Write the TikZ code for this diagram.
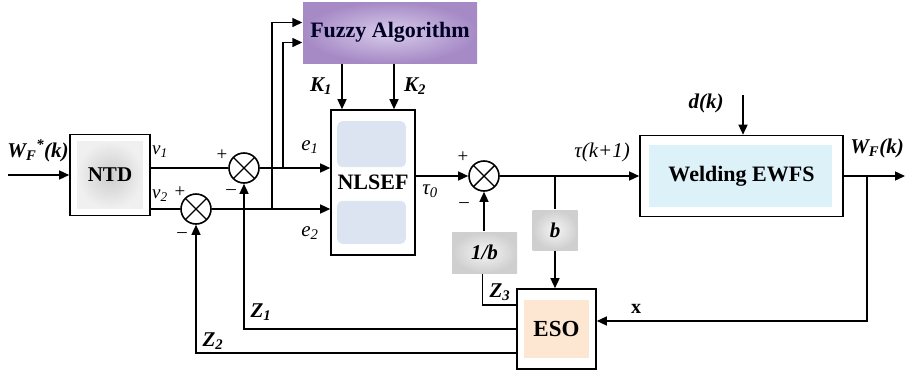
\documentclass[tikz,border=0pt]{standalone}
\usepackage{fontspec}
\setmainfont{Liberation Serif}
\usetikzlibrary{arrows.meta,backgrounds}
\definecolor{fuzin}{HTML}{D8CCEA}
\definecolor{fuzout}{HTML}{A68AC6}
\definecolor{nlpatch}{HTML}{DCE4F2}
\definecolor{wdpatch}{HTML}{DDF1F9}
\definecolor{esopatch}{HTML}{FDE6D2}
\begin{document}
\begin{tikzpicture}[x=1pt,y=-1pt, line width=1.4pt,
  >={Triangle[length=10pt,width=9pt]},
  blk/.style={draw, line width=1.6pt, inner sep=0pt, font=\fontsize{22}{24}\selectfont\bfseries},
  gblk/.style={inner sep=0pt, font=\fontsize{21}{23}\selectfont\bfseries\itshape},
  sumj/.style={circle, draw, line width=1.6pt, minimum size=30pt, inner sep=0pt, fill=white,
    path picture={\draw[line width=1.4pt] (path picture bounding box.north west) -- (path picture bounding box.south east)
      (path picture bounding box.south west) -- (path picture bounding box.north east);}},
  lab/.style={inner sep=0pt, font=\fontsize{21}{23}\selectfont\bfseries\itshape},
  rlab/.style={inner sep=0pt, font=\fontsize{21}{23}\selectfont\itshape},
  sgn/.style={inner sep=0pt, font=\fontsize{19}{21}\selectfont}]
\useasboundingbox (0,0) rectangle (912,375);

% blocks
\node[blk, minimum width=80pt, minimum height=81pt, font=\fontsize{21}{23}\selectfont\bfseries] (ntd) at (110,175) {NTD};
\node[blk, minimum width=84pt, minimum height=145pt] (nlsef) at (373,182.5) {NLSEF};
\node[inner sep=0pt, minimum width=174pt, minimum height=61pt, font=\fontsize{22}{24}\selectfont\bfseries,
      text=black!85!blue, shading=radial, inner color=fuzin, outer color=fuzout] (fuzzy) at (390,32.5) {Fuzzy Algorithm};
\node[blk, minimum width=203pt, minimum height=81pt] (weld) at (741.5,176) {Welding EWFS};
\node[blk, minimum width=79pt, minimum height=80pt, font=\fontsize{23}{25}\selectfont\bfseries] (eso) at (556.5,329) {ESO};
\node[gblk, minimum width=45pt, minimum height=40pt, shading=radial, inner color=gray!8, outer color=gray!38] (bb) at (555,230) {b};
\node[gblk, minimum width=65pt, minimum height=41pt, shading=radial, inner color=gray!8, outer color=gray!38] (ib) at (484.5,252.5) {1/b};

\begin{scope}[on background layer]
  \shade[inner color=gray!40, outer color=gray!12] ([xshift=8pt,yshift=-8pt]ntd.north west) rectangle ([xshift=-8pt,yshift=8pt]ntd.south east);
  \fill[nlpatch, rounded corners=5pt] ([xshift=7pt,yshift=-12pt]nlsef.north west) rectangle ([xshift=-10pt,yshift=-58pt]nlsef.north east);
  \fill[nlpatch, rounded corners=5pt] ([xshift=7pt,yshift=12pt]nlsef.south west) rectangle ([xshift=-10pt,yshift=55pt]nlsef.south east);
  \fill[wdpatch] ([xshift=10pt,yshift=-10pt]weld.north west) rectangle ([xshift=-12pt,yshift=10pt]weld.south east);
  \fill[esopatch] ([xshift=8pt,yshift=-12pt]eso.north west) rectangle ([xshift=-8pt,yshift=12pt]eso.south east);
\end{scope}

% summing junctions
\node[sumj] (s1) at (244,168) {};
\node[sumj] (s2) at (196,209) {};
\node[sumj] (s3) at (484,176) {};

% coordinates
\coordinate (in) at (8,175);
\coordinate (br1) at (283,168);
\coordinate (br2) at (272,209);
\coordinate (k1) at (342,0);
\coordinate (k2) at (394,0);
\coordinate (bt) at (555,176);
\coordinate (dk) at (743,95);
\coordinate (out) at (905,176);
\coordinate (fb) at (867,176);

% connectors
\draw[->] (in) -- (ntd.west);
\draw (ntd.east |- s1) -- (s1.west);
\draw (ntd.east |- s2) -- (s2.west);
\draw[->] (s1.east) -- (nlsef.west |- s1);
\draw[->] (s2.east) -- (nlsef.west |- s2);
\draw[->] (br1) |- ([yshift=-10pt]fuzzy.west);
\draw[->] (br2) |- ([yshift=10pt]fuzzy.west);
\draw[->] (fuzzy.south -| k1) -- (nlsef.north -| k1);
\draw[->] (fuzzy.south -| k2) -- (nlsef.north -| k2);
\draw[->] (nlsef.east |- s3) -- (s3.west);
\draw[->] (s3.east) -- (weld.west |- s3);
\draw[->] (dk) -- (weld.north -| dk);
\draw[->] (weld.east) -- (out);
\draw[->] (fb) |- ([yshift=8pt]eso.east);
\draw (bt) -- (bb.north);
\draw[->] (bb.south) -- (eso.north -| bb);
\draw[->] (ib.north -| s3) -- (s3.south);
\draw ([xshift=-2pt]ib.south) |- ([yshift=24pt]eso.west);
\draw[->] (eso.west) -| (s1.south);
\draw[->] ([yshift=-24pt]eso.west) -| (s2.south);

% labels
\node[lab] (lwf) at (38,151) {W\textsubscript{F}\textsuperscript{*}(k)};
\node[rlab, font=\fontsize{19}{21}\selectfont\itshape] (lv1) at (160,152) {v\textsubscript{1}};
\node[rlab, font=\fontsize{19}{21}\selectfont\itshape] (lv2) at (160,196) {v\textsubscript{2}};
\node[sgn] (p2) at (180,192) {+};
\node[sgn] (m2) at (182,235) {\textendash};
\node[sgn] (p1) at (222,155) {+};
\node[sgn] (m1) at (231,192) {\textendash};
\node[rlab] (le1) at (310,147) {e\textsubscript{1}};
\node[rlab] (le2) at (310,233) {e\textsubscript{2}};
\node[lab] (lk1) at (321,86) {K\textsubscript{1}};
\node[lab] (lk2) at (415,86) {K\textsubscript{2}};
\node[rlab] (lt0) at (430,191) {τ\textsubscript{0}};
\node[sgn] (p3) at (463,157) {+};
\node[sgn] (m3) at (464,205) {\textendash};
\node[rlab] (ltk) at (602,152) {τ(k+1)};
\node[lab] (ldk) at (706,103) {d(k)};
\node[lab] (lwo) at (877,148) {W\textsubscript{F}(k)};
\node[inner sep=0pt, font=\fontsize{20}{22}\selectfont\bfseries] (lx) at (636,309) {x};
\node[lab] (lz1) at (261,312) {Z\textsubscript{1}};
\node[lab] (lz2) at (213,341) {Z\textsubscript{2}};
\node[lab] (lz3) at (500,292) {Z\textsubscript{3}};
\end{tikzpicture}
\end{document}
